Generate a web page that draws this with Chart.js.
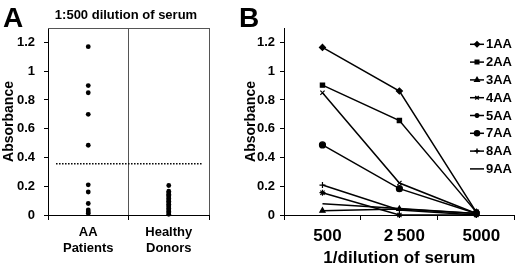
<!DOCTYPE html>
<html>
<head>
<meta charset="utf-8">
<script src="https://cdn.jsdelivr.net/npm/chart.js@4.4.1/dist/chart.umd.min.js"></script>
<style>
  html, body { margin: 0; padding: 0; background: #fff; }
  body { width: 520px; height: 267px; position: relative; overflow: hidden; }
  canvas { position: absolute; top: 0; }
  #ca { left: 0; }
  #cb { left: 236px; }
</style>
</head>
<body>
<canvas id="ca" width="240" height="267"></canvas>
<canvas id="cb" width="284" height="267"></canvas>
<script>
// ---------- data ----------
const panelATitle = '1:500 dilution of serum';
const groupLabels = [['AA', 'Patients'], ['Healthy', 'Donors']];
const aaPatients = [1.17, 0.90, 0.85, 0.70, 0.485, 0.21, 0.16, 0.08, 0.035, 0.02, 0.01];
const healthyDonors = [0.205, 0.165, 0.155, 0.145, 0.135, 0.125, 0.115, 0.105, 0.095, 0.085, 0.075, 0.065, 0.055, 0.045, 0.035, 0.025, 0.015, 0.005];
const cutoff = 0.356;

const yTickValues = [0, 0.2, 0.4, 0.6, 0.8, 1.0, 1.2];
const yTickLabels = ['0', '0.2', '0.4', '0.6', '0.8', '1', '1.2'];

const dilutions = ['500', '2\u2009500', '5000'];
const seriesNames = ['1AA', '2AA', '3AA', '4AA', '5AA', '7AA', '8AA', '9AA'];
const s1AA = [1.165, 0.862, 0.02];
const s2AA = [0.903, 0.657, 0.02];
const s3AA = [0.030, 0.042, 0.01];
const s4AA = [0.850, 0.222, 0.01];
const s5AA = [0.155, 0.000, 0.00];
const s7AA = [0.487, 0.183, 0.01];
const s8AA = [0.208, 0.035, 0.00];
const s9AA = [0.078, 0.045, 0.01];
const seriesValues = [s1AA, s2AA, s3AA, s4AA, s5AA, s7AA, s8AA, s9AA];
const seriesMarkers = ['rectRot', 'rect', 'triangle', 'crossRot', 'star', 'circle', 'cross', false];

// ---------- shared ----------
const FONT = "'Liberation Sans', Arial, sans-serif";
Chart.defaults.font.family = FONT;
Chart.defaults.color = '#000';

function yScale(titlePad, tickPad, width) {
  return {
    min: 0, max: 1.3,
    afterBuildTicks: s => { s.ticks = yTickValues.map(v => ({ value: v })); },
    afterFit: s => { s.width = width; },
    ticks: {
      callback: (v, i) => yTickLabels[i],
      font: { size: 13, weight: 'bold' }, color: '#000', padding: tickPad
    },
    grid: { drawOnChartArea: false, drawTicks: true, tickLength: 4, tickColor: '#000', tickWidth: 1 },
    border: { color: '#000', width: 1 },
    title: { display: true, text: 'Absorbance', font: { size: 14, weight: 'bold' }, color: '#000', padding: { top: titlePad, bottom: 0 } }
  };
}

function letterPlugin(letter) {
  return {
    id: 'letter' + letter,
    afterDraw(chart) {
      const ctx = chart.ctx;
      ctx.save();
      ctx.fillStyle = '#000';
      ctx.font = 'bold 28px ' + FONT;
      ctx.textAlign = 'left';
      ctx.textBaseline = 'alphabetic';
      ctx.fillText(letter, 3, 27);
      ctx.restore();
    }
  };
}

// ---------- panel A ----------
const boxPlugin = {
  id: 'boxA',
  afterDraw(chart) {
    const { ctx, chartArea } = chart;
    ctx.save();
    ctx.strokeStyle = '#555';
    ctx.lineWidth = 1;
    ctx.beginPath();
    ctx.moveTo(chartArea.left, chartArea.top + 0.5);
    ctx.lineTo(chartArea.right, chartArea.top + 0.5);
    ctx.stroke();
    ctx.fillStyle = '#000';
    ctx.font = 'bold 13px ' + FONT;
    ctx.textAlign = 'center';
    ctx.textBaseline = 'middle';
    ctx.fillText(panelATitle, (chartArea.left + chartArea.right) / 2 - 2.5, 15);
    ctx.restore();
  }
};

new Chart(document.getElementById('ca'), {
  type: 'scatter',
  data: {
    datasets: [
      { data: aaPatients.map(v => ({ x: 0.5, y: v })), pointRadius: 2.4, pointBackgroundColor: '#000', pointBorderWidth: 0, clip: false },
      { data: healthyDonors.map(v => ({ x: 1.5, y: v })), pointRadius: 2.4, pointBackgroundColor: '#000', pointBorderWidth: 0, clip: false },
      { type: 'line', data: [{ x: 0.1, y: cutoff }, { x: 1.925, y: cutoff }], borderColor: '#000', borderWidth: 1.5, borderDash: [1.5, 1.5], pointRadius: 0, showLine: true }
    ]
  },
  options: {
    responsive: false, animation: false, devicePixelRatio: 1,
    layout: { padding: { top: 28, right: 31, left: 0, bottom: 0 } },
    plugins: { legend: { display: false }, tooltip: { enabled: false }, title: { display: false } },
    scales: {
      x: {
        type: 'linear', min: 0, max: 2,
        afterBuildTicks: s => { s.ticks = [0, 0.5, 1, 1.5, 2].map(v => ({ value: v })); },
        afterFit: s => { s.height = 52; },
        ticks: {
          autoSkip: false, maxRotation: 0, minRotation: 0,
          callback: v => (v === 0.5 ? groupLabels[0] : v === 1.5 ? groupLabels[1] : ''),
          font: { size: 13, weight: 'bold', lineHeight: 1.25 }, color: '#000', padding: 4
        },
        grid: {
          drawOnChartArea: true, drawTicks: true, tickLength: 5,
          color: c => (c.tick && c.tick.value % 1 === 0 ? '#555' : 'rgba(0,0,0,0)'),
          tickColor: c => (c.tick && c.tick.value % 1 === 0 ? '#000' : 'rgba(0,0,0,0)')
        },
        border: { color: '#000', width: 1 }
      },
      y: yScale(1, 9, 48)
    }
  },
  plugins: [boxPlugin, letterPlugin('A')]
});

// ---------- panel B ----------
const legendPlugin = {
  id: 'legendB',
  afterDraw(chart) {
    const ctx = chart.ctx;
    const x0 = 470 - 236, x1 = 484 - 236, tx = 486 - 236;
    ctx.save();
    chart.data.datasets.forEach((ds, i) => {
      const y = 44.3 + i * 17.8;
      ctx.strokeStyle = '#000';
      ctx.lineWidth = 1.5;
      ctx.beginPath();
      ctx.moveTo(x0, y);
      ctx.lineTo(x1, y);
      ctx.stroke();
      if (ds.pointStyle) {
        Chart.helpers.drawPoint(ctx, { pointStyle: ds.pointStyle, radius: 2.5, rotation: 0, borderWidth: 1.2 }, (x0 + x1) / 2, y);
      }
      ctx.fillStyle = '#000';
      ctx.font = 'bold 13px ' + FONT;
      ctx.textAlign = 'left';
      ctx.textBaseline = 'middle';
      ctx.fillText(ds.label, tx, y + 0.5);
    });
    ctx.restore();
  }
};

new Chart(document.getElementById('cb'), {
  type: 'line',
  data: {
    labels: dilutions,
    datasets: seriesNames.map((name, i) => ({
      label: name,
      data: seriesValues[i],
      borderColor: '#000',
      borderWidth: 1.5,
      backgroundColor: '#000',
      pointStyle: seriesMarkers[i],
      pointRadius: seriesMarkers[i] ? 3 : 0,
      pointBackgroundColor: '#000',
      pointBorderColor: '#000',
      pointBorderWidth: 1.2,
      tension: 0,
      clip: false
    }))
  },
  options: {
    responsive: false, animation: false, devicePixelRatio: 1,
    layout: { padding: { top: 28, right: 2, left: 0, bottom: 0 } },
    plugins: { legend: { display: false }, tooltip: { enabled: false }, title: { display: false } },
    scales: {
      x: {
        type: 'category', offset: true,
        afterFit: s => { s.height = 52; },
        ticks: { font: { size: 17, weight: 'bold' }, color: '#000', padding: 6, labelOffset: 5, maxRotation: 0, autoSkip: false },
        grid: { offset: true, drawOnChartArea: false, drawTicks: true, tickLength: 5, tickColor: '#000' },
        border: { color: '#000', width: 1 },
        title: { display: true, text: '1/dilution of serum', font: { size: 17, weight: 'bold', lineHeight: 1 }, color: '#000', padding: 0 }
      },
      y: yScale(7, 5, 48)
    }
  },
  plugins: [legendPlugin, letterPlugin('B')]
});
</script>
</body>
</html>
